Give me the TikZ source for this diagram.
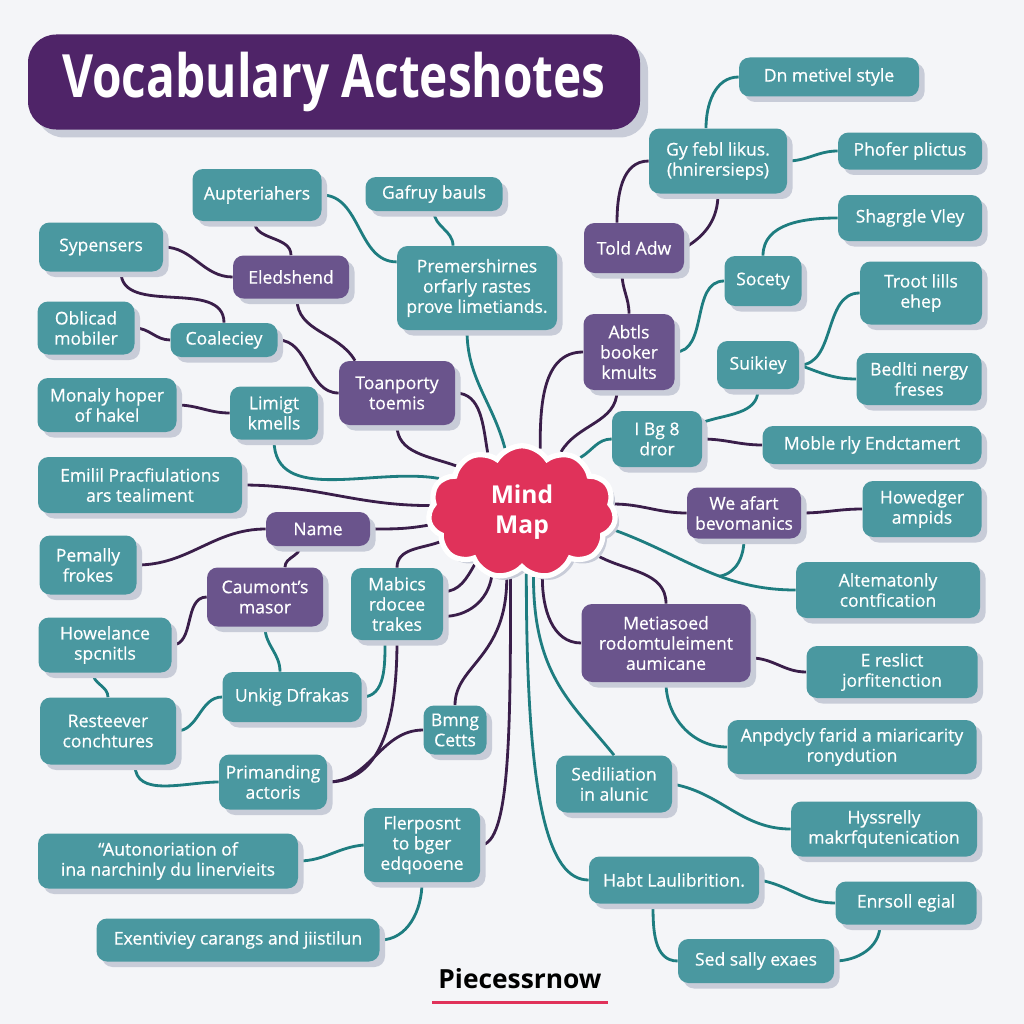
\documentclass[tikz,border=0pt]{standalone}
\usepackage{fontspec}
\setmainfont{Open Sans}
\newfontfamily\boxfont{Open Sans}[FakeBold=0.6, Ligatures=TeX]
\usepackage{graphicx}
\usetikzlibrary{shapes.symbols, shadows, positioning, calc}

\definecolor{pagebg}{RGB}{244, 245, 248}
\definecolor{tealbox}{RGB}{74, 152, 160}
\definecolor{purplebox}{RGB}{106, 84, 140}
\definecolor{titlepurple}{RGB}{79, 36, 104}
\definecolor{cloudred}{RGB}{224, 50, 90}
\definecolor{tealline}{RGB}{30, 125, 128}
\definecolor{purpleline}{RGB}{58, 30, 74}
\definecolor{shadowgrey}{RGB}{200, 204, 216}

\pgfdeclarelayer{bottom}
\pgfdeclarelayer{background}
\pgfsetlayers{bottom,background,main}

\tikzset{
  tbox/.style={fill=tealbox, rounded corners=6pt, text=white, align=center, inner sep=3pt,
    font=\boxfont\fontsize{10}{11.5}\selectfont,
    drop shadow={shadow xshift=0.11cm, shadow yshift=-0.11cm, fill=shadowgrey, opacity=1}},
  pbox/.style={tbox, fill=purplebox},
  sz/.style 2 args={minimum width=#1*0.02cm, minimum height=#2*0.02cm},
  tl/.style={tealline, line width=1.6pt},
  pl/.style={purpleline, line width=1.6pt},
}

\begin{document}
\begin{tikzpicture}[x=0.02cm, y=0.02cm]
  \useasboundingbox (0,0) rectangle (1024,-1024);
  \begin{pgfonlayer}{bottom}
    \fill[pagebg] (0,0) rectangle (1024,-1024);
  \end{pgfonlayer}

  % Title
  \node[fill=titlepurple, rounded corners=16pt, minimum width=612*0.02cm, minimum height=95*0.02cm,
    text=white, font=\bfseries\fontsize{34}{40}\selectfont,
    drop shadow={shadow xshift=0.16cm, shadow yshift=-0.16cm, fill=shadowgrey, opacity=1}]
    (title) at (334,-82) {\scalebox{0.8}[1]{Vocabulary Acteshotes}};

  % Centre
  \node[cloud, cloud puffs=11, cloud puff arc=115, aspect=1.45, fill=cloudred, draw=white,
    line width=3pt, minimum width=3.75cm, minimum height=2.65cm, text=white, align=center,
    font=\bfseries\fontsize{14}{17}\selectfont,
    drop shadow={shadow xshift=0.08cm, shadow yshift=-0.08cm, fill=shadowgrey, opacity=1}]
    (mind) at (522,-512) {Mind\\Map};

  % Left, top
  \node[tbox, sz={129}{52}] (aupt) at (257,-195) {Aupteriahers};
  \node[tbox, sz={137}{34}] (gafr) at (434,-194) {Gafruy bauls};
  \node[tbox, sz={124}{49}] (sype) at (101,-247) {Sypensers};
  \node[pbox, sz={116}{43}] (eled) at (291,-277) {Eledshend};
  \node[tbox, sz={160}{84}] (prem) at (477,-288) {Premershirnes\\orfarly rastes\\prove limetiands.};
  \node[tbox, sz={97}{53}] (obli) at (86,-328) {Oblicad\\mobiler};
  \node[tbox, sz={107}{34}] (coal) at (224,-340) {Coaleciey};
  \node[tbox, sz={139}{54}] (mona) at (107,-405) {Monaly hoper\\of hakel};
  \node[tbox, sz={88}{53}] (limi) at (274,-413) {Limigt\\kmells};
  \node[pbox, sz={116}{64}] (toan) at (397,-393) {Toanporty\\toemis};

  % Right, top
  \node[tbox, sz={180}{39}] (dnme) at (829,-77) {Dn metivel style};
  \node[tbox, sz={138}{65}] (gyfe) at (718,-161) {Gy febl likus.\\(hnirersieps)};
  \node[tbox, sz={144}{37}] (phof) at (910,-151) {Phofer plictus};
  \node[pbox, sz={100}{50}] (told) at (634,-248) {Told Adw};
  \node[tbox, sz={144}{46}] (shag) at (910,-218) {Shagrgle Vley};
  \node[tbox, sz={77}{50}] (soce) at (763,-281) {Socety};
  \node[tbox, sz={122}{63}] (troo) at (921,-293) {Troot lills\\ehep};
  \node[pbox, sz={91}{76}] (abtl) at (629,-352) {Abtls\\booker\\kmults};
  \node[tbox, sz={82}{48}] (suik) at (758,-365) {Suikiey};
  \node[tbox, sz={125}{52}] (bedl) at (919,-379) {Bedlti nergy\\freses};
  \node[tbox, sz={90}{56}] (ibg8) at (657,-439) {I Bg 8\\dror};
  \node[tbox, sz={219}{38}] (mobl) at (872,-445) {Moble rly Endctamert};

  % Left, bottom
  \node[tbox, sz={204}{56}] (emil) at (140,-485) {Emilil Pracfiulations\\ars tealiment};
  \node[tbox, sz={97}{59}] (pema) at (88,-565) {Pemally\\frokes};
  \node[pbox, sz={104}{34}] (name) at (318,-529) {Name};
  \node[pbox, sz={116}{59}] (caum) at (265,-597) {Caumont’s\\masor};
  \node[tbox, sz={92}{72}] (mabi) at (397,-604) {Mabics\\rdocee\\trakes};
  \node[tbox, sz={133}{55}] (howe) at (105,-645) {Howelance\\spcnitls};
  \node[tbox, sz={139}{50}] (unki) at (292,-697) {Unkig Dfrakas};
  \node[tbox, sz={136}{67}] (rest) at (108,-731) {Resteever\\conchtures};
  \node[tbox, sz={63}{49}] (bmng) at (455,-730) {Bmng\\Cetts};
  \node[tbox, sz={108}{55}] (prim) at (273,-782) {Primanding\\actoris};
  \node[tbox, sz={116}{74}] (fler) at (422,-845) {Flerposnt\\to bger\\edqooene};
  \node[tbox, sz={260}{55}] (auto) at (168,-861) {“Autonoriation of\\ina narchinly du linervieits};
  \node[tbox, sz={283}{43}] (exen) at (238,-940) {Exentiviey carangs and jiistilun};

  % Right, bottom
  \node[pbox, sz={114}{51}] (weaf) at (744,-513) {We afart\\bevomanics};
  \node[tbox, sz={119}{56}] (hwdg) at (922,-509) {Howedger\\ampids};
  \node[tbox, sz={184}{56}] (alte) at (888,-590) {Altematonly\\contfication};
  \node[pbox, sz={169}{78}] (meti) at (666,-643) {Metiasoed\\rodomtuleiment\\aumicane};
  \node[tbox, sz={171}{52}] (eres) at (892,-672) {E reslict\\jorfitenction};
  \node[tbox, sz={249}{54}] (anpd) at (852,-747) {Anpdycly farid a miaricarity\\ronydution};
  \node[tbox, sz={116}{57}] (sedi) at (614,-784) {Sediliation\\in alunic};
  \node[tbox, sz={186}{55}] (hyss) at (884,-829) {Hyssrelly\\makrfqutenication};
  \node[tbox, sz={170}{47}] (habt) at (674,-880) {Habt Laulibrition.};
  \node[tbox, sz={141}{43}] (enrs) at (906,-903) {Enrsoll egial};
  \node[tbox, sz={156}{44}] (seds) at (756,-961) {Sed sally exaes};

  % Footer
  \node[font=\bfseries\fontsize{15}{18}\selectfont] (brand) at (520,-979) {Piecessrnow};
  \draw[cloudred, line width=1.6pt] ([yshift=-4pt]brand.south west) -- ([yshift=-4pt]brand.south east);

  \begin{pgfonlayer}{background}
    % teal connectors
    \draw[tl] (aupt.east) to[out=0,in=180] (prem.162);
    \draw[tl] (gafr.south) to[out=-90,in=90] ([xshift=-0.48cm]prem.north);
    \draw[tl] ([xshift=-0.2cm]prem.south) to[out=-90,in=105] (mind.105);
    \draw[tl] (limi.south) to[out=-90,in=170] (mind.158);
    \draw[tl] (caum.south) to[out=-90,in=90] ([xshift=-0.24cm]unki.north);
    \draw[tl] ([xshift=-0.24cm]howe.south) to[out=-90,in=90] (rest.north);
    \draw[tl] (rest.east) to[out=0,in=180] (unki.west);
    \draw[tl] (unki.east) to[out=0,in=-90] ([xshift=-0.24cm]mabi.south);
    \draw[tl] ([xshift=0.54cm]rest.south) to[out=-90,in=180] (prim.west);
    \draw[tl] (auto.east) to[out=0,in=185] (fler.west);
    \draw[tl] (fler.south) to[out=-90,in=0] (exen.east);
    \draw[tl] (mind.274) .. controls +(0,-230) and +(-40,0) .. (habt.west);
    \draw[tl] (mind.280) .. controls +(0,-100) and +(-40,50) .. (sedi.north);
    \draw[tl] (sedi.east) to[out=-10,in=180] (hyss.west);
    \draw[tl] (habt.east) to[out=-10,in=180] (enrs.west);
    \draw[tl] ([xshift=-0.42cm]habt.south) to[out=-90,in=180] (seds.west);
    \draw[tl] ([xshift=-0.52cm]enrs.south) to[out=-90,in=0] (seds.east);
    \draw[tl] (meti.south) to[out=-90,in=180] (anpd.west);
    \draw[tl] (mind.-11) to[out=-20,in=180] coordinate[pos=0.6] (join) (alte.west);
    \draw[tl] (weaf.south) to[out=-90,in=10] (join);
    \draw[tl] (mind.43) to[out=30,in=180] (ibg8.west);
    \draw[tl] (ibg8.20) to[out=20,in=-90] (suik.south);
    \draw[tl] (abtl.east) to[out=0,in=180] (soce.west);
    \draw[tl] (soce.north) to[out=90,in=180] (shag.west);
    \draw[tl] (suik.east) to[out=0,in=180] (troo.west);
    \draw[tl] (suik.east) to[out=-20,in=180] (bedl.west);
    \draw[tl] ([xshift=-0.24cm]gyfe.north) to[out=90,in=180] (dnme.west);
    \draw[tl] (gyfe.east) to[out=0,in=180] (phof.west);

    % purple connectors
    \draw[pl] ([xshift=-0.05cm]aupt.south) to[out=-90,in=90] (eled.north);
    \draw[pl] (sype.east) to[out=0,in=180] (eled.west);
    \draw[pl] ([xshift=0.4cm]sype.south) to[out=-90,in=90] (coal.north);
    \draw[pl] ([xshift=0.12cm]eled.south) to[out=-90,in=120] ([xshift=-0.84cm]toan.north);
    \draw[pl] (obli.east) to[out=0,in=180] (coal.west);
    \draw[pl] (coal.east) to[out=0,in=180] (toan.west);
    \draw[pl] (mona.east) to[out=0,in=180] (limi.west);
    \draw[pl] (toan.east) to[out=0,in=100] (mind.120);
    \draw[pl] (toan.south) to[out=-90,in=160] (mind.145);
    \draw[pl] (emil.east) to[out=0,in=180] (mind.176);
    \draw[pl] (name.east) to[out=0,in=190] (mind.188);
    \draw[pl] (pema.east) to[out=0,in=180] (name.west);
    \draw[pl] ([xshift=-0.36cm]name.south) to[out=-90,in=90] ([xshift=0.4cm]caum.north);
    \draw[pl] (howe.east) to[out=0,in=180] (caum.west);
    \draw[pl] (mind.200) to[out=200,in=90] (mabi.north);
    \draw[pl] (mabi.15) to[out=0,in=-120] (mind.228);
    \draw[pl] (mabi.-15) to[out=0,in=-100] (mind.245);
    \draw[pl] (mabi.south) .. controls +(0,-110) and +(40,0) .. (prim.east);
    \draw[pl] (prim.east) to[out=0,in=180] (bmng.west);
    \draw[pl] (bmng.north) .. controls +(0,40) and +(0,-80) .. (mind.257);
    \draw[pl] (fler.east) .. controls +(30,0) and +(0,-150) .. (mind.260);
    \draw[pl] (mind.287) to[out=-90,in=180] (meti.west);
    \draw[pl] (mind.-30) to[out=-30,in=90] (meti.north);
    \draw[pl] (mind.5) to[out=0,in=180] (weaf.west);
    \draw[pl] (weaf.east) to[out=0,in=180] (hwdg.west);
    \draw[pl] (meti.-10) to[out=0,in=180] (eres.west);
    \draw[pl] (mind.74) to[out=90,in=180] (abtl.west);
    \draw[pl] ([xshift=-0.24cm]abtl.south) to[out=-90,in=60] (mind.57);
    \draw[pl] ([xshift=-0.24cm]told.south) to[out=-90,in=90] (abtl.north);
    \draw[pl] ([xshift=-0.34cm]told.north) to[out=90,in=180] (gyfe.west);
    \draw[pl] (gyfe.south) to[out=-90,in=30] (told.east);
    \draw[pl] (ibg8.east) to[out=0,in=180] (mobl.west);
  \end{pgfonlayer}
\end{tikzpicture}
\end{document}
